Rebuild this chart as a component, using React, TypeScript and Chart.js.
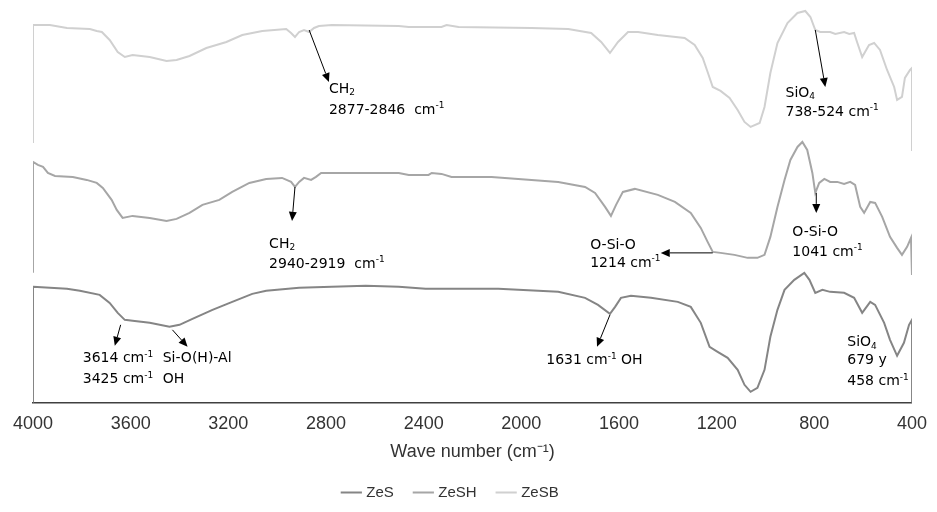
import React, { useEffect, useRef } from 'react';
import { Chart, registerables } from 'chart.js';

Chart.register(...registerables);

// ---- data -------------------------------------------------------------
const SERIES_NAMES = ['ZeS', 'ZeSH', 'ZeSB'];
const WAVENUMBER_TICKS = [4000, 3600, 3200, 2800, 2400, 2000, 1600, 1200, 800, 400];

// [wavenumber (cm-1), transmittance (a.u., offset spectra)]
const ZES_SPECTRUM: [number, number][] = [
  [4000, 0], [4000, 29], [3861, 28.5], [3808, 28], [3727, 27], [3686, 25], [3653, 22.5], [3624, 20.75],
  [3592, 20.5], [3522, 20], [3441, 19], [3400, 19.5], [3347, 21], [3265, 23.25], [3184, 25.25], [3102, 27.25],
  [3045, 28], [2910, 28.75], [2776, 29], [2637, 29.25], [2502, 29], [2392, 28.5], [2327, 28.5], [2216, 28.5],
  [2094, 28.5], [1849, 27.75], [1739, 26.25], [1686, 24.5], [1637, 22.25], [1616, 24], [1592, 26.25],
  [1551, 26.75], [1469, 26.25], [1359, 25.25], [1306, 24], [1265, 20], [1229, 14], [1196, 12.75],
  [1155, 11.25], [1114, 8.25], [1086, 4.5], [1061, 2.75], [1033, 3.75], [1004, 8.25], [980, 16.5],
  [951, 23.25], [922, 28.25], [882, 30.75], [841, 32.5], [820, 30.75], [796, 27.5], [767, 28.25],
  [735, 27.75], [678, 27.5], [637, 26.25], [604, 22.5], [571, 25.25], [551, 24.5], [514, 20], [490, 15.75],
  [461, 11.75], [433, 15], [412, 19.5], [400, 20.75], [400, 0],
];

const ZESH_SPECTRUM: [number, number][] = [
  [4000, 32.5], [4000, 60.25], [3980, 59.5], [3959, 59], [3939, 57.5], [3910, 56.75], [3837, 56.5],
  [3780, 55.75], [3739, 55], [3714, 53.75], [3678, 50.75], [3657, 48.25], [3633, 46.25], [3592, 46.75],
  [3522, 46.25], [3453, 45.5], [3412, 46], [3359, 47.5], [3306, 49.5], [3237, 50.75], [3184, 52.75],
  [3114, 55], [3045, 56], [2980, 56.25], [2943, 55.25], [2927, 54], [2910, 55.25], [2890, 56.25],
  [2861, 55.75], [2841, 56.5], [2820, 57.5], [2502, 57.5], [2461, 57], [2380, 57], [2367, 57.5],
  [2327, 57.25], [2286, 56.5], [2216, 56.5], [2122, 56.5], [1849, 55.25], [1739, 54], [1698, 52.5],
  [1657, 49], [1633, 46.75], [1612, 49.5], [1584, 52.75], [1535, 53.5], [1441, 52], [1371, 50.25],
  [1306, 47.5], [1265, 43.75], [1237, 40.25], [1216, 37.75], [1184, 37.5], [1127, 37], [1073, 36.25],
  [1033, 36.25], [1004, 37], [980, 41.5], [951, 49], [922, 55.75], [898, 60.75], [869, 64], [849, 65.25],
  [829, 63.25], [808, 57.5], [796, 52.5], [780, 55], [759, 56], [735, 55.25], [706, 55.25], [678, 54.75],
  [653, 55.25], [633, 54.5], [612, 49], [596, 47.5], [571, 50.25], [551, 50], [522, 46.5], [490, 41.5],
  [461, 38.75], [441, 37], [420, 39], [404, 41.25], [400, 41.5], [400, 32],
];

const ZESB_SPECTRUM: [number, number][] = [
  [4000, 65], [4000, 94.5], [3931, 94.5], [3861, 93.75], [3767, 93.5], [3739, 93], [3718, 92.75],
  [3686, 90.75], [3653, 87.75], [3624, 86.5], [3592, 87], [3522, 86.5], [3453, 85.5], [3412, 85.75],
  [3359, 86.75], [3290, 88.75], [3208, 90.25], [3143, 92], [3061, 93], [2963, 93.5], [2943, 92.5],
  [2927, 91.5], [2910, 92.75], [2890, 93.25], [2869, 92.75], [2849, 93.75], [2829, 94.25], [2776, 94.5],
  [2502, 94.25], [2461, 94], [2327, 94], [2306, 94.5], [2257, 94], [1959, 93.75], [1808, 93.5],
  [1714, 92.5], [1673, 90.25], [1637, 87.5], [1604, 90.25], [1563, 92.75], [1522, 92.75], [1441, 92],
  [1331, 91.25], [1290, 89.5], [1257, 86.25], [1237, 82.75], [1216, 79], [1184, 78], [1147, 76.25],
  [1114, 73.25], [1086, 70.25], [1061, 69], [1024, 70], [1004, 74], [980, 82.5], [951, 90], [910, 95],
  [869, 97.5], [837, 98], [816, 96.5], [796, 93.25], [776, 92.75], [735, 92.75], [714, 92.25], [678, 92.75],
  [657, 92.25], [637, 92.5], [625, 90.25], [604, 86.5], [576, 89.5], [555, 90], [531, 88.25], [502, 83.25],
  [473, 79], [461, 75.75], [441, 76.5], [429, 81.25], [408, 83.25], [400, 83.75], [400, 63],
];

const SERIES_DATA = [ZES_SPECTRUM, ZESH_SPECTRUM, ZESB_SPECTRUM];
const SERIES_COLORS = ['#858585', '#a6a6a6', '#d0d0d0'];

// annotation labels: anchor [wavenumber, value] = left edge / vertical centre
const NOTE_TEXTS: { at: [number, number]; text: string }[] = [
  { at: [2788, 78.5], text: 'CH_{2}' },
  { at: [2788, 73.25], text: '2877-2846  cm^{-1}' },
  { at: [918, 77.5], text: 'SiO_{4}' },
  { at: [918, 72.75], text: '738-524 cm^{-1}' },
  { at: [3033, 39.75], text: 'CH_{2}' },
  { at: [3033, 34.75], text: '2940-2919  cm^{-1}' },
  { at: [1718, 39.5], text: 'O-Si-O' },
  { at: [1718, 35], text: '1214 cm^{-1}' },
  { at: [890, 42.75], text: 'O-Si-O' },
  { at: [890, 37.75], text: '1041 cm^{-1}' },
  { at: [3796, 11], text: '3614 cm^{-1}' },
  { at: [3469, 11], text: 'Si-O(H)-Al' },
  { at: [3796, 5.75], text: '3425 cm^{-1}' },
  { at: [3469, 5.75], text: 'OH' },
  { at: [1898, 10.5], text: '1631 cm^{-1} OH' },
  { at: [665, 15], text: 'SiO_{4}' },
  { at: [665, 10.5], text: '679 y' },
  { at: [665, 5.25], text: '458 cm^{-1}' },
];

// arrows: from [wavenumber, value] to [wavenumber, value]
const NOTE_ARROWS: [[number, number], [number, number]][] = [
  [[2869, 93.25], [2788, 80.25]],
  [[796, 93.25], [755, 79]],
  [[2927, 54], [2939, 45.5]],
  [[1216, 37.5], [1429, 37.5]],
  [[792, 52.5], [792, 47.5]],
  [[3641, 19.5], [3665, 14.25]],
  [[3429, 18.25], [3367, 14]],
  [[1637, 22], [1690, 14]],
];

// ---- drawing helpers ---------------------------------------------------
const NOTE_FONT = '"DejaVu Sans", sans-serif';
const NOTE_SIZE = 14;
const AXIS_FONT = '"Liberation Sans", Arial, sans-serif';

function parseRich(text: string): { t: string; mode: string }[] {
  const out: { t: string; mode: string }[] = [];
  const re = /([_^])\{([^}]*)\}/g;
  let last = 0;
  let m: RegExpExecArray | null;
  while ((m = re.exec(text))) {
    if (m.index > last) out.push({ t: text.slice(last, m.index), mode: '' });
    out.push({ t: m[2], mode: m[1] === '_' ? 'sub' : 'sup' });
    last = m.index + m[0].length;
  }
  if (last < text.length) out.push({ t: text.slice(last), mode: '' });
  return out;
}

const notesPlugin = {
  id: 'ftirNotes',
  afterLayout(chart: any) {
    // centre the legend row under the plot as in the original figure
    const lg = chart.legend;
    if (lg) {
      lg.left -= 22.75;
      lg.right -= 22.75;
    }
  },
  afterDatasetsDraw(chart: any) {
    const { ctx, scales } = chart;
    const xs = scales.x;
    const ys = scales.y;
    ctx.save();
    ctx.strokeStyle = '#000';
    ctx.fillStyle = '#000';
    ctx.lineWidth = 1;
    NOTE_ARROWS.forEach(([from, to]) => {
      const x1 = xs.getPixelForValue(from[0]);
      const y1 = ys.getPixelForValue(from[1]);
      const x2 = xs.getPixelForValue(to[0]);
      const y2 = ys.getPixelForValue(to[1]);
      const ang = Math.atan2(y2 - y1, x2 - x1);
      const head = 9;
      const half = 4;
      const bx = x2 - head * Math.cos(ang);
      const by = y2 - head * Math.sin(ang);
      ctx.beginPath();
      ctx.moveTo(x1, y1);
      ctx.lineTo(bx, by);
      ctx.stroke();
      ctx.beginPath();
      ctx.moveTo(x2, y2);
      ctx.lineTo(bx + half * Math.sin(ang), by - half * Math.cos(ang));
      ctx.lineTo(bx - half * Math.sin(ang), by + half * Math.cos(ang));
      ctx.closePath();
      ctx.fill();
    });
    ctx.textBaseline = 'middle';
    ctx.textAlign = 'left';
    NOTE_TEXTS.forEach((n) => {
      let px = xs.getPixelForValue(n.at[0]);
      const py = ys.getPixelForValue(n.at[1]);
      parseRich(n.text).forEach((p) => {
        const size = p.mode ? 9 : NOTE_SIZE;
        const dy = p.mode === 'sub' ? 4 : p.mode === 'sup' ? -4 : 0;
        ctx.font = `${size}px ${NOTE_FONT}`;
        ctx.fillText(p.t, px, py + dy);
        px += ctx.measureText(p.t).width;
      });
    });
    ctx.restore();
  },
};

export default function App() {
  const canvasRef = useRef<HTMLCanvasElement>(null);

  useEffect(() => {
    document.body.style.margin = '0';
    const canvas = canvasRef.current;
    if (!canvas) return;
    const chart = new Chart(canvas, {
      type: 'line',
      data: {
        datasets: SERIES_NAMES.map((name, i) => ({
          label: name,
          data: SERIES_DATA[i].map(([x, y]) => ({ x, y })),
          borderColor: SERIES_COLORS[i],
          backgroundColor: SERIES_COLORS[i],
          borderWidth: 2,
          pointRadius: 0,
          tension: 0,
          fill: false,
        })),
      },
      options: {
        responsive: false,
        animation: false,
        layout: { padding: { left: 33, right: 22, top: 3, bottom: 2 } },
        scales: {
          x: {
            type: 'linear',
            reverse: true,
            min: 400,
            max: 4000,
            grid: { display: false, drawTicks: false },
            border: { display: true, color: '#404040', width: 1.5 },
            afterBuildTicks: (axis: any) => {
              axis.ticks = WAVENUMBER_TICKS.map((v) => ({ value: v }));
            },
            ticks: {
              autoSkip: false,
              maxRotation: 0,
              padding: 10,
              color: '#333333',
              font: { size: 18, family: AXIS_FONT },
              callback: (v: any) => String(v),
            },
            title: {
              display: true,
              text: 'Wave number (cm⁻¹)',
              color: '#333333',
              font: { size: 18, family: AXIS_FONT },
              padding: { top: -3, bottom: 0 },
            },
          },
          y: { display: false, min: 0, max: 100 },
        },
        plugins: {
          legend: {
            position: 'bottom',
            labels: {
              usePointStyle: true,
              pointStyle: 'line',
              color: '#333333',
              padding: 22,
              font: { size: 15, family: AXIS_FONT },
            },
          },
          tooltip: { enabled: false },
        },
      },
      plugins: [notesPlugin],
    } as any);
    return () => chart.destroy();
  }, []);

  return <canvas ref={canvasRef} width={937} height={512} style={{ display: 'block' }} />;
}
